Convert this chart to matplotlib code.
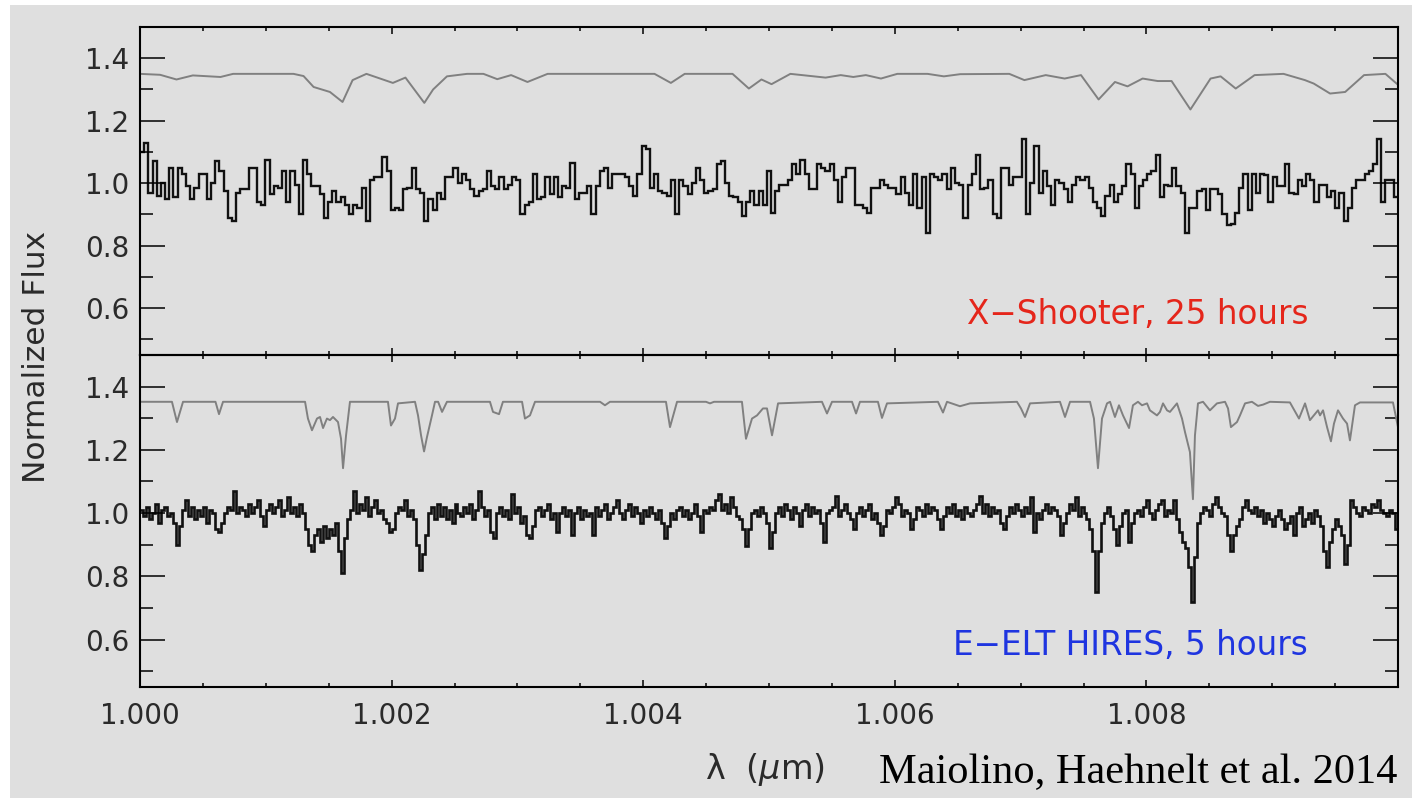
import numpy as np
import matplotlib.pyplot as plt
from matplotlib.patches import Rectangle
from matplotlib.ticker import MultipleLocator, FixedLocator

# X-Shooter simulated spectrum (black steps, top panel)
xshooter_flux = [
    1.10, 1.13, 0.97, 1.07, 0.96, 1.00,
    0.95, 1.05, 0.955, 1.05, 1.03, 0.99, 0.95, 0.985, 1.03, 1.03,
    0.95, 1.00, 1.07, 1.04, 0.975, 0.89, 0.88, 0.97, 0.98, 0.98,
    1.05, 1.05, 0.94, 0.93, 1.075, 0.965, 0.99, 0.985, 1.04, 0.94,
    1.04, 0.995, 0.90, 1.075, 1.03, 0.99, 0.99, 0.965, 0.89, 0.94,
    0.975, 0.94, 0.955, 0.93, 0.90, 0.93, 0.92, 0.985, 0.88, 1.01,
    1.02, 1.02, 1.085, 1.04, 0.915, 0.92, 0.915, 0.98, 0.985, 1.05,
    0.98, 0.97, 0.88, 0.95, 0.915, 0.97, 0.95, 1.02, 1.02, 1.05,
    1.00, 1.03, 1.01, 0.98, 0.96, 0.975, 0.98, 1.04, 0.99, 0.98,
    1.02, 0.98, 0.995, 1.02, 1.01, 0.90, 0.93, 0.94, 1.03, 0.95,
    0.955, 1.02, 0.965, 1.02, 0.955, 0.99, 0.985, 1.065,
    0.95, 0.97, 0.97, 0.99, 0.90, 0.99, 1.04, 1.05, 0.985, 1.03,
    1.03, 1.03, 1.02, 0.99, 0.96, 1.03, 1.12, 1.11, 0.985, 1.03,
    0.975, 0.97, 0.96, 1.01, 0.90, 1.01, 0.99, 0.965, 1.00, 1.05,
    1.01, 0.97, 0.975, 0.98, 1.06, 1.07, 1.00, 0.96, 0.955, 0.94,
    0.895, 0.94, 0.975, 0.93, 0.975, 0.93, 1.04, 0.905, 0.975, 0.995,
    0.995, 1.01, 1.06, 1.03, 1.075, 1.03, 0.98, 0.98, 1.06, 1.05,
    1.04, 1.06, 1.01, 0.94, 1.02, 1.05, 1.05, 0.93, 0.93, 0.92,
    0.905, 0.985, 0.985, 1.01, 0.995, 0.985, 0.985, 0.965, 1.02, 0.97,
    0.93, 1.03, 0.92, 1.02, 0.84, 1.03, 1.02, 1.01, 1.03, 0.98,
    1.05, 1.00, 0.995, 0.89, 0.995, 1.03, 1.09,
    0.98, 0.985, 1.01, 0.90, 0.89, 1.05, 1.05, 0.995, 1.02, 1.02,
    1.14, 0.90, 1.00, 1.12, 0.97, 1.04, 0.99, 0.93, 1.01, 1.00,
    0.98, 0.94, 0.995, 1.02, 1.01, 1.02, 0.985, 0.94, 0.92, 0.895,
    0.96, 0.995, 0.94, 0.965, 0.99, 1.06, 1.03, 0.92, 0.99, 1.01,
    1.03, 1.04, 1.09, 0.955, 0.995, 0.99, 1.05, 0.99, 0.97, 0.84,
    0.92, 0.92, 0.975, 0.98, 0.915, 0.98, 0.98, 0.965, 0.90, 0.865,
    0.87, 0.905, 0.985, 1.03, 0.915, 1.03, 0.97, 1.03, 1.025, 0.94,
    1.02, 0.99, 0.99, 1.06, 0.97, 0.965, 1.01, 0.99, 1.03, 1.01,
    0.94, 0.995, 0.995, 0.955, 0.975, 0.92, 0.97, 0.88, 0.92, 0.985,
    1.01, 1.01, 1.03, 1.04, 1.06, 1.14, 0.94, 1.01, 1.01, 0.955,
]

# E-ELT HIRES simulated spectrum (black steps, bottom panel)
hires_flux = [
    1.01, 0.99, 1.02, 0.98, 1.00, 1.03, 0.97, 1.01, 1.02, 0.99,
    1.00, 0.97, 0.90, 0.96, 1.01, 1.04, 0.99, 1.02, 0.98, 1.01,
    0.99, 1.02, 0.97, 1.01, 1.00, 0.95, 0.94, 0.97, 1.00, 1.02,
    1.01, 1.07, 1.00, 1.02, 1.01, 0.99, 1.03, 1.00, 1.02, 1.04,
    0.99, 0.96, 1.01, 1.03, 1.00, 1.02, 1.04, 0.99, 1.01, 1.05,
    1.00, 1.02, 0.99, 1.03, 1.00, 0.95, 0.90, 0.88, 0.93, 0.95,
    0.91, 0.96, 0.92, 0.95, 0.93, 0.97, 0.88, 0.81, 0.92, 0.98,
    1.01, 1.07, 1.00, 1.03, 1.01, 1.05, 0.99, 1.02, 1.04, 1.00,
    1.01, 0.98, 0.97, 0.94, 0.95, 1.00, 1.02, 1.01, 1.04, 0.99,
    1.01, 0.98, 0.90, 0.82, 0.87, 0.93, 1.00, 1.02, 0.98, 1.03,
    0.99, 1.02, 0.98, 1.01, 0.97, 1.03, 1.00, 0.99, 1.02, 1.00,
    1.03, 0.98, 1.01, 1.07, 1.02, 0.99, 1.01, 0.94, 0.92, 1.00,
    1.02, 0.99, 1.01, 0.98, 1.06, 1.00, 1.02, 0.97, 0.99, 0.93,
    0.92, 0.96, 1.01, 1.02, 0.99, 1.01, 1.03, 0.98, 1.00, 0.94,
    1.00, 1.02, 0.99, 1.01, 0.93, 1.00, 1.02, 0.98, 1.01, 0.99,
    1.00, 0.93, 1.02, 0.99, 1.01, 1.03, 0.98, 1.00, 1.02, 1.04,
    1.00, 0.98, 1.01, 1.03, 0.99, 1.02, 1.00, 0.97, 1.01, 0.99,
    1.02, 1.00, 0.98, 1.01, 0.97, 0.92, 0.96, 1.00, 0.98, 1.01,
    1.02, 0.99, 1.01, 0.98, 1.00, 1.03, 0.99, 0.94, 1.01, 1.00,
    1.02, 1.01, 1.04, 1.06, 1.01, 1.03, 1.00, 1.05, 1.02, 0.99,
    0.98, 0.95, 0.895, 0.95, 1.00, 1.01, 0.99, 1.02, 1.00, 0.97,
    0.89, 0.94, 1.00, 1.02, 0.99, 1.03, 1.01, 0.98, 1.02, 1.00,
    0.96, 1.01, 1.03, 0.99, 1.02, 1.00, 1.01, 0.97, 0.91, 1.00,
    1.01, 1.02, 1.055, 0.99, 1.01, 1.03, 1.00, 0.98, 0.95, 1.00,
    1.02, 0.99, 1.01, 1.03, 0.98, 1.00, 0.97, 0.93, 0.96, 1.01,
    1.00, 1.02, 1.05, 1.03, 0.99, 1.01, 1.00, 0.95, 0.98, 1.02,
    1.01, 0.99, 1.03, 1.00, 1.02, 1.01, 0.98, 0.95, 0.99, 1.02,
    1.00, 1.03, 0.99, 1.01, 0.98, 1.02, 1.00, 0.99, 1.01, 1.03,
    1.055, 1.00, 1.03, 0.99, 1.02, 1.00, 1.01, 0.97, 0.95, 0.99,
    1.02, 1.00, 1.03, 1.01, 0.99, 1.02, 1.00, 1.05, 0.94, 1.00,
    0.98, 1.01, 1.03, 1.00, 1.02, 1.01, 0.99, 0.93, 0.97, 1.00,
    1.03, 1.01, 1.05, 0.99, 1.02, 1.00, 0.98, 0.95, 0.88, 0.75,
    0.88, 0.97, 1.00, 1.02, 0.99, 0.95, 0.90, 0.96, 1.00, 1.01,
    0.91, 0.97, 1.00, 1.01, 0.99, 1.02, 1.04, 1.00, 0.98, 1.01,
    1.03, 1.04, 0.99, 1.01, 1.00, 1.04, 0.98, 0.94, 0.91, 0.89,
    0.83, 0.72, 0.86, 0.97, 1.00, 1.02, 1.01, 0.99, 1.03, 1.05,
    1.02, 1.00, 0.99, 0.93, 0.88, 0.93, 0.96, 0.98, 1.02, 1.04,
    1.01, 1.00, 1.02, 0.99, 1.01, 0.97, 1.00, 0.98, 0.96, 0.99,
    1.01, 0.98, 0.95, 0.97, 0.99, 0.93, 1.00, 1.02, 0.96, 0.98,
    1.00, 0.97, 1.01, 0.99, 0.96, 0.88, 0.83, 0.91, 0.95, 0.98,
    0.96, 0.93, 0.84, 0.90, 1.04, 1.02, 1.00, 0.99, 1.02, 1.01,
    1.00, 1.03, 1.02, 1.04, 1.01, 1.00, 0.99, 1.01, 1.00, 0.95,
]

# smoothed model spectrum at X-Shooter resolution (grey, offset by +0.35)
xshooter_model_wave = [
    1.00000, 1.00016, 1.00029, 1.00042, 1.00064, 1.00074, 1.00122, 1.00130,
    1.00138, 1.00151, 1.00161, 1.00169, 1.00180, 1.00201, 1.00211, 1.00226,
    1.00233, 1.00244, 1.00260, 1.00273, 1.00284, 1.00295, 1.00308, 1.00324,
    1.00409, 1.00422, 1.00433, 1.00471, 1.00484, 1.00494, 1.00502, 1.00517,
    1.00545, 1.00557, 1.00567, 1.00577, 1.00589, 1.00602, 1.00626, 1.00639,
    1.00652, 1.00691, 1.00703, 1.00720, 1.00735, 1.00748, 1.00762, 1.00775,
    1.00785, 1.00797, 1.00809, 1.00820, 1.00835, 1.00851, 1.00859, 1.00871,
    1.00886, 1.00909, 1.00926, 1.00933, 1.00946, 1.00958, 1.00973, 1.00990,
    1.01000,
]
xshooter_model_flux = [
    1.350, 1.347, 1.332, 1.345, 1.340, 1.350, 1.350, 1.343,
    1.308, 1.292, 1.260, 1.330, 1.350, 1.321, 1.338, 1.257,
    1.300, 1.342, 1.350, 1.350, 1.333, 1.346, 1.324, 1.350,
    1.350, 1.321, 1.350, 1.350, 1.303, 1.332, 1.317, 1.350,
    1.338, 1.346, 1.340, 1.346, 1.335, 1.350, 1.350, 1.342,
    1.349, 1.350, 1.330, 1.346, 1.335, 1.346, 1.268, 1.324,
    1.310, 1.335, 1.327, 1.327, 1.236, 1.335, 1.342, 1.303,
    1.346, 1.350, 1.330, 1.319, 1.287, 1.292, 1.346, 1.350,
    1.315,
]

# model spectrum at HIRES resolution (grey, offset by +0.35)
hires_model_wave = [
    1.000000, 1.000254, 1.000294, 1.000342, 1.000600, 1.000628, 1.000660, 1.001312,
    1.001335, 1.001367, 1.001407, 1.001431, 1.001455, 1.001486, 1.001510, 1.001534,
    1.001574, 1.001598, 1.001614, 1.001638, 1.001669, 1.001971, 1.001995, 1.002027,
    1.002051, 1.002186, 1.002210, 1.002234, 1.002258, 1.002281, 1.002321, 1.002345,
    1.002370, 1.002401, 1.002440, 1.002782, 1.002806, 1.002854, 1.002885, 1.003037,
    1.003060, 1.003100, 1.003140, 1.003657, 1.003696, 1.003736, 1.004181, 1.004213,
    1.004269, 1.004499, 1.004531, 1.004563, 1.004785, 1.004817, 1.004865, 1.004905,
    1.004952, 1.004984, 1.005024, 1.005072, 1.005421, 1.005461, 1.005501, 1.005660,
    1.005692, 1.005723, 1.005866, 1.005898, 1.005938, 1.006343, 1.006383, 1.006415,
    1.006518, 1.006598, 1.006971, 1.007003, 1.007035, 1.007075, 1.007313, 1.007353,
    1.007393, 1.007552, 1.007583, 1.007615, 1.007647, 1.007687, 1.007711, 1.007750,
    1.007782, 1.007814, 1.007862, 1.007893, 1.007933, 1.007965, 1.008005, 1.008028,
    1.008084, 1.008108, 1.008132, 1.008164, 1.008187, 1.008243, 1.008283, 1.008307,
    1.008346, 1.008370, 1.008386, 1.008410, 1.008450, 1.008505, 1.008561, 1.008625,
    1.008649, 1.008672, 1.008720, 1.008744, 1.008784, 1.008839, 1.008887, 1.008927,
    1.008982, 1.009141, 1.009213, 1.009261, 1.009300, 1.009364, 1.009380, 1.009404,
    1.009436, 1.009467, 1.009491, 1.009523, 1.009563, 1.009595, 1.009618, 1.009658,
    1.009698, 1.009960, 1.010000,
]
hires_model_flux = [
    1.352, 1.352, 1.288, 1.352, 1.352, 1.313, 1.352, 1.352,
    1.299, 1.262, 1.299, 1.304, 1.269, 1.299, 1.294, 1.304,
    1.288, 1.235, 1.142, 1.246, 1.352, 1.352, 1.277, 1.299,
    1.347, 1.352, 1.309, 1.246, 1.195, 1.240, 1.309, 1.352,
    1.352, 1.320, 1.352, 1.352, 1.320, 1.313, 1.352, 1.352,
    1.299, 1.309, 1.352, 1.352, 1.341, 1.352, 1.352, 1.272,
    1.352, 1.352, 1.347, 1.352, 1.352, 1.235, 1.299, 1.309,
    1.331, 1.331, 1.246, 1.347, 1.352, 1.315, 1.352, 1.352,
    1.315, 1.352, 1.352, 1.301, 1.347, 1.352, 1.318, 1.352,
    1.338, 1.347, 1.352, 1.331, 1.304, 1.347, 1.352, 1.304,
    1.352, 1.352, 1.299, 1.142, 1.299, 1.347, 1.352, 1.304,
    1.341, 1.309, 1.269, 1.341, 1.352, 1.341, 1.347, 1.325,
    1.309, 1.320, 1.347, 1.325, 1.320, 1.347, 1.299, 1.256,
    1.193, 1.044, 1.246, 1.347, 1.352, 1.325, 1.347, 1.352,
    1.331, 1.272, 1.288, 1.309, 1.347, 1.352, 1.339, 1.343,
    1.352, 1.350, 1.299, 1.347, 1.294, 1.325, 1.309, 1.325,
    1.272, 1.227, 1.283, 1.325, 1.299, 1.283, 1.230, 1.341,
    1.350, 1.350, 1.272,
]

wave_ticks = [1.000, 1.002, 1.004, 1.006, 1.008]
flux_ticks = [0.6, 0.8, 1.0, 1.2, 1.4]
wave_min, wave_max = 1.000, 1.010
flux_min, flux_max = 0.45, 1.5

bg_color = '#dfdfdf'
text_color = '#2a2a2a'
W, H = 1412, 798

fig = plt.figure(figsize=(W / 100, H / 100), dpi=100, facecolor='white')
# grey slide background with thin white margin at top and left
fig.patches.append(Rectangle((10 / W, 0), 1, 1 - 5 / H, transform=fig.transFigure,
                             facecolor=bg_color, edgecolor='none', zorder=-10))

ax_top = fig.add_axes([140 / W, 1 - 355 / H, 1258 / W, 328 / H])
ax_bot = fig.add_axes([140 / W, 1 - 687 / H, 1258 / W, 332 / H])


def style_panel(ax, show_xlabels):
    ax.set_facecolor('none')
    ax.set_xlim(wave_min, wave_max)
    ax.set_ylim(flux_min, flux_max)
    ax.yaxis.set_major_locator(FixedLocator(flux_ticks))
    ax.yaxis.set_minor_locator(MultipleLocator(0.1))
    ax.xaxis.set_major_locator(FixedLocator(wave_ticks))
    ax.xaxis.set_minor_locator(MultipleLocator(0.0005))
    ax.xaxis.set_major_formatter(lambda v, p: '%.3f' % v)
    ax.yaxis.set_major_formatter(lambda v, p: '%.1f' % v)
    for s in ax.spines.values():
        s.set_linewidth(1.5)
        s.set_color('black')
    ax.tick_params(axis='both', which='both', direction='in', top=True, right=True,
                   colors='black', labelcolor=text_color, labelsize=20, width=1.1)
    ax.tick_params(axis='y', which='major', length=18, pad=8)
    ax.tick_params(axis='y', which='minor', length=9.5)
    ax.tick_params(axis='x', which='major', length=5, pad=11)
    ax.tick_params(axis='x', which='minor', length=3)
    ax.tick_params(axis='x', labelbottom=show_xlabels)


# top panel: X-Shooter
top_edges = np.linspace(wave_min, wave_max, len(xshooter_flux) + 1)
ax_top.plot(xshooter_model_wave, xshooter_model_flux, color='#808080', lw=1.4)
ax_top.stairs(xshooter_flux, top_edges, baseline=None, color='#111111', lw=1.7)
ax_top.text(0.9285, 0.122, 'X\u2212Shooter, 25 hours', transform=ax_top.transAxes,
            ha='right', va='center', fontsize=23.5, color='#e5261b')
style_panel(ax_top, False)

# bottom panel: E-ELT HIRES
bot_edges = np.linspace(wave_min, wave_max, len(hires_flux) + 1)
ax_bot.plot(hires_model_wave, hires_model_flux, color='#808080', lw=1.4)
ax_bot.stairs(hires_flux, bot_edges, baseline=None, color='#111111', lw=1.9)
ax_bot.text(0.9285, 0.1265, 'E\u2212ELT HIRES, 5 hours', transform=ax_bot.transAxes,
            ha='right', va='center', fontsize=23.5, color='#1f35e0')
style_panel(ax_bot, True)

fig.text(37 / W, 1 - 357 / H, 'Normalized Flux', rotation=90, ha='center', va='center',
         fontsize=22.5, color=text_color)
fig.text(765 / W, 1 - 770 / H, r'λ  ($\mu$m)', ha='center', va='center',
         fontsize=24, color=text_color)
fig.text(1397 / W, 1 - 783 / H, 'Maiolino, Haehnelt et al. 2014', ha='right',
         va='baseline', fontsize=30.5, color='black', family='Liberation Serif')

fig.savefig('out.png', dpi=100, facecolor=fig.get_facecolor())
